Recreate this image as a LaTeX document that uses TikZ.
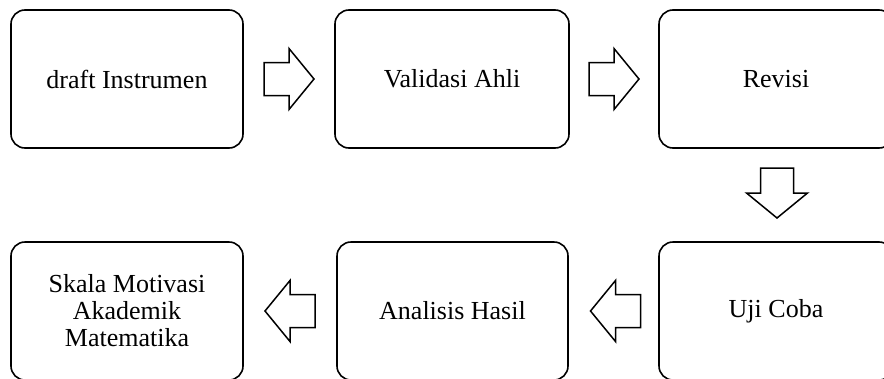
\documentclass[tikz,border=0pt]{standalone}
\usepackage{fontspec}
\setmainfont{Liberation Serif}
\usetikzlibrary{calc}
\tikzset{
  stepbox/.style={draw=black, line width=1.6pt, rounded corners=14pt, minimum height=138pt, inner sep=0pt, align=center,
    font=\fontsize{26}{27}\selectfont},
  arrowline/.style={draw=black, line width=1.5pt, fill=white, line join=miter},
  blockarrow/.pic={\path[arrowline] (-25,-16.5) -- (0,-16.5) -- (0,-30.5) -- (25,0) -- (0,30.5) -- (0,16.5) -- (-25,16.5) -- cycle;}
}
\begin{document}
\begin{tikzpicture}[x=1pt,y=-1pt]
\useasboundingbox (0,0) rectangle (884,378);
\clip (0,0) rectangle (884,378);
\node[stepbox, minimum width=232pt] (a) at (127,79) {draft Instrumen};
\node[stepbox, minimum width=234pt] (b) at (452,79) {Validasi Ahli};
\node[stepbox, minimum width=234pt] (c) at (776,79) {Revisi};
\node[stepbox, minimum width=234pt] (d) at (776,311) {Uji Coba};
\node[stepbox, minimum width=231pt] (e) at (452.5,311) {Analisis Hasil};
\node[stepbox, minimum width=232pt] (f) at (127,311) {Skala Motivasi\\Akademik\\Matematika};
\pic at ($(a.east)!0.5!(b.west)$) {blockarrow};
\pic at ($(b.east)!0.5!(c.west)+(0,0)$) {blockarrow};
\pic[rotate=-90] at ($(c.south)!0.5!(d.north)+(1,-2)$) {blockarrow};
\pic[rotate=180] at ($(d.west)!0.5!(e.east)+(2,0)$) {blockarrow};
\pic[rotate=180] at ($(e.west)!0.5!(f.east)$) {blockarrow};
\end{tikzpicture}
\end{document}
